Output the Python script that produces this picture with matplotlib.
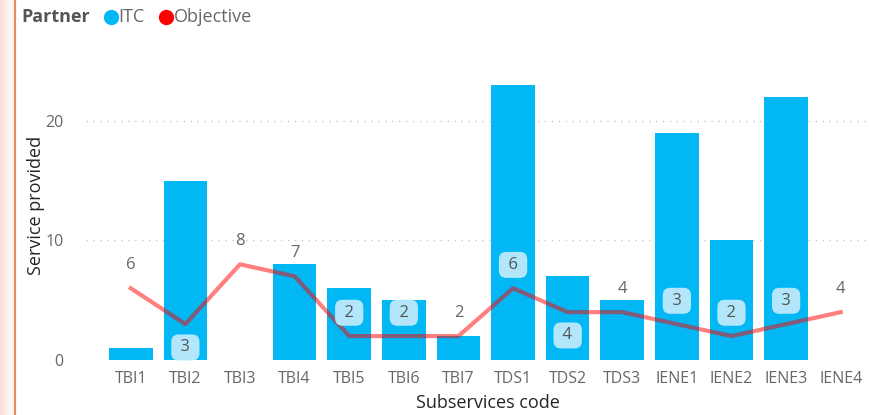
import matplotlib.pyplot as plt
import matplotlib.colors as mcolors
import numpy as np

codes = ['TBI1', 'TBI2', 'TBI3', 'TBI4', 'TBI5', 'TBI6', 'TBI7',
         'TDS1', 'TDS2', 'TDS3', 'IENE1', 'IENE2', 'IENE3', 'IENE4']
itc = [1, 15, 0, 8, 6, 5, 2, 23, 7, 5, 19, 10, 22, 0]
objective = [6, 3, 8, 7, 2, 2, 2, 6, 4, 4, 3, 2, 3, 4]

# label placement: +1 above the point, -1 below; boxed when sitting on a bar
label_side = [1, -1, 1, 1, 1, 1, 1, 1, -1, 1, 1, 1, 1, 1]
label_box = [False, True, False, False, True, True, False, True, True, False, True, True, True, False]

plt.rcParams['font.family'] = ['Open Sans', 'DejaVu Sans']

fig = plt.figure(figsize=(8.69, 4.15), dpi=100)

# left border strip with soft shadow
strip = fig.add_axes([0, 0, 14 / 869, 1])
grad = np.linspace(1, 0, 50).reshape(1, -1)
strip.imshow(grad, aspect='auto', extent=[0, 1, 0, 1],
             cmap=mcolors.LinearSegmentedColormap.from_list('sh', ['#ffffff', '#fbe0d6']))
strip.axis('off')
fig.add_artist(plt.Line2D([15 / 869, 15 / 869], [0, 1], color='#f08a64', lw=1.6))

ax = fig.add_axes([86 / 869, 55 / 415, 782 / 869, 299 / 415])
x = np.arange(len(codes))

ax.bar(x, itc, width=0.8, color='#01b8f5', zorder=2)
ax.plot(x, objective, color='red', alpha=0.5, lw=3, zorder=3)

for xi, v, side, boxed in zip(x, objective, label_side, label_box):
    y = v + side * 1.95
    if boxed:
        ax.text(xi, y, ' %d ' % v, ha='center', va='center', fontsize=12, color='#555555', zorder=4,
                bbox=dict(boxstyle='round,pad=0.3,rounding_size=0.45', fc='#b3e6fb', ec='none'))
    else:
        ax.text(xi, y, str(v), ha='center', va='center', fontsize=12, color='#666666', zorder=4)

ax.set_xlim(-0.82, 13.5)
ax.set_ylim(0, 25)
ax.set_yticks([0, 10, 20])
ax.set_xticks(x)
ax.set_xticklabels(codes)
ax.grid(axis='y', color='#c8c8c8', linestyle=(0, (1, 4)), lw=1, zorder=0)
for s in ax.spines.values():
    s.set_visible(False)
ax.tick_params(length=0, labelsize=11.5, colors='#666666', pad=8)
ax.tick_params(axis='y', pad=16)
ax.set_xlabel('Subservices code', fontsize=13, color='#252525')
ax.set_ylabel('Service provided', fontsize=13, color='#252525')
ax.xaxis.set_label_coords(0.514, -0.115)
ax.yaxis.set_label_coords(-0.052, 0.518)

# legend header
ly = 1 - 17 / 415
fig.text(21 / 869, ly, 'Partner', fontsize=13, fontweight='bold', color='#555555', va='center')
fig.lines.append(plt.Line2D([111 / 869], [ly], marker='o', ms=10, color='#01b8f5',
                            transform=fig.transFigure, figure=fig))
fig.text(118 / 869, ly, 'ITC', fontsize=13, color='#666666', va='center')
fig.lines.append(plt.Line2D([166 / 869], [ly], marker='o', ms=10, color='#ff0000',
                            transform=fig.transFigure, figure=fig))
fig.text(174 / 869, ly, 'Objective', fontsize=13, color='#666666', va='center')

plt.savefig('out.png', dpi=100)
